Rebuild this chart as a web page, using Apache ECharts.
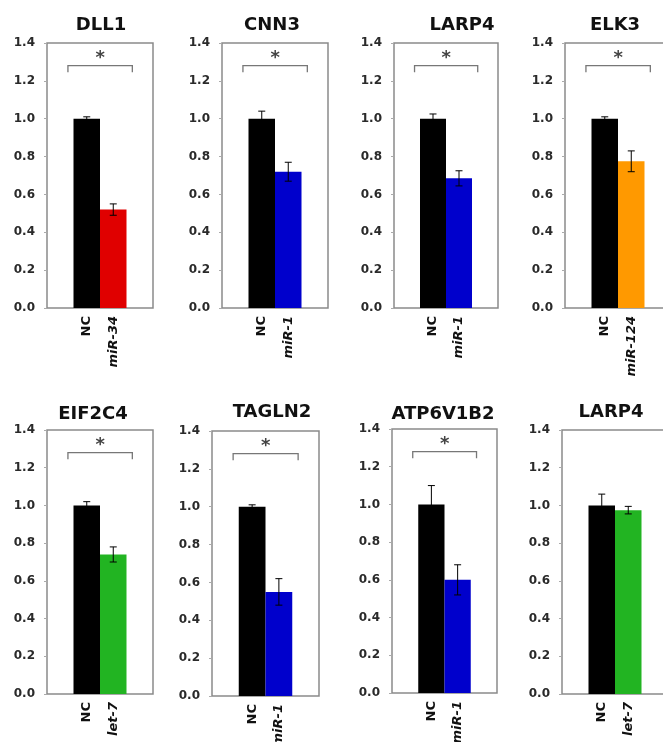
<!DOCTYPE html>
<html>
<head>
<meta charset="utf-8">
<script src="https://cdn.jsdelivr.net/npm/echarts@6/dist/echarts.min.js"></script>
<style>
html,body{margin:0;padding:0;background:#fff;}
#c{width:663px;height:742px;}
</style>
</head>
<body>
<div id="c"></div>
<script>
// ---- data ----
const genes = ['DLL1', 'CNN3', 'LARP4', 'ELK3', 'EIF2C4', 'TAGLN2', 'ATP6V1B2', 'LARP4'];
const controlLabel = 'NC';
const treatments = ['miR-34', 'miR-1', 'miR-1', 'miR-124', 'let-7', 'miR-1', 'miR-1', 'let-7'];
const ncValues = [1.0, 1.0, 1.0, 1.0, 1.0, 1.0, 1.0, 1.0];
const ncErrors = [0.01, 0.04, 0.025, 0.01, 0.02, 0.01, 0.1, 0.06];
const mirValues = [0.52, 0.72, 0.685, 0.775, 0.74, 0.55, 0.60, 0.975];
const mirErrors = [0.03, 0.05, 0.04, 0.055, 0.04, 0.07, 0.08, 0.02];
const significant = [true, true, true, true, true, true, true, false];
const yTickLabels = ['0.0', '0.2', '0.4', '0.6', '0.8', '1.0', '1.2', '1.4'];

// ---- styling / layout ----
const W = 663, H = 742;
const mirColors = ['#e00000', '#0000cc', '#0000cc', '#ff9900', '#22b422', '#0000cc', '#0000cc', '#22b422'];
const gridLeft = [47, 222, 394, 565, 47, 212, 392, 562];
const gridTop = [43, 43, 43, 43, 430, 431, 429, 430];
const gridW = [106, 106, 104, 106, 106, 107, 105, 106];
const gridH = [265, 265, 265, 265, 264, 265, 264, 264];
const titleX = [101, 272, 462, 615, 93, 272, 443, 611];
const titleY = [25, 25, 25, 25, 414, 412, 414, 412];
const FONT = '"DejaVu Sans", "Liberation Sans", Arial, sans-serif';

const chart = echarts.init(document.getElementById('c'), null, {renderer: 'canvas'});

const grids = [], xAxes = [], yAxes = [], series = [], graphics = [];

genes.forEach((g, i) => {
  grids.push({
    left: gridLeft[i], top: gridTop[i], width: gridW[i], height: gridH[i],
    containLabel: false, outerBoundsMode: 'none',
    show: true, borderColor: '#8a8a8a', borderWidth: 1.5, backgroundColor: 'transparent'
  });
  const cats = ['', controlLabel, treatments[i], ''];
  xAxes.push({
    type: 'category', gridIndex: i, data: cats, boundaryGap: true,
    axisLine: {show: false}, axisTick: {show: false}, splitLine: {show: false},
    axisLabel: {
      interval: 0, rotate: 90, margin: 8,
      formatter: (v, idx) => idx === 1 ? '{n|' + v + '}' : (idx === 2 ? '{m|' + v + '}' : ''),
      rich: {
        n: {fontFamily: FONT, fontWeight: 'bold', fontSize: 13, color: '#111'},
        m: {fontFamily: FONT, fontWeight: 'bold', fontStyle: 'italic', fontSize: 13, color: '#111'}
      }
    }
  });
  yAxes.push({
    type: 'value', gridIndex: i, min: 0, max: 1.4, interval: 0.2,
    axisLine: {show: false},
    axisTick: {show: true, length: 3, lineStyle: {color: '#aaa', width: 1}},
    splitLine: {show: false},
    axisLabel: {
      margin: 12, fontFamily: FONT, fontWeight: 'bold', fontSize: 12, color: '#2a2a2a',
      formatter: v => yTickLabels[Math.round(v / 0.2)]
    }
  });
  series.push({
    type: 'bar', xAxisIndex: i, yAxisIndex: i, barWidth: '100%', barCategoryGap: 0,
    data: ['-', {value: ncValues[i], itemStyle: {color: '#000'}},
           {value: mirValues[i], itemStyle: {color: mirColors[i]}}, '-'],
    silent: true, animation: false, z: 2
  });
  series.push({
    type: 'custom', xAxisIndex: i, yAxisIndex: i, animation: false, silent: true, z: 5,
    data: [[1, ncValues[i], ncErrors[i]], [2, mirValues[i], mirErrors[i]]],
    renderItem: (params, api) => {
      const x = api.value(0), v = api.value(1), e = api.value(2);
      const top = api.coord([x, v + e]);
      const bot = api.coord([x, v - e]);
      const cap = 3.5;
      const st = {stroke: '#000', lineWidth: 1};
      return {
        type: 'group', children: [
          {type: 'line', shape: {x1: top[0], y1: top[1], x2: bot[0], y2: bot[1]}, style: st},
          {type: 'line', shape: {x1: top[0] - cap, y1: top[1], x2: top[0] + cap, y2: top[1]}, style: st},
          {type: 'line', shape: {x1: bot[0] - cap, y1: bot[1], x2: bot[0] + cap, y2: bot[1]}, style: st}
        ]
      };
    }
  });
  if (significant[i]) {
    series.push({
      type: 'custom', xAxisIndex: i, yAxisIndex: i, animation: false, silent: true, z: 5,
      data: [[1, 2]],
      renderItem: (params, api) => {
        const p1 = api.coord([1, 1.28]);
        const p2 = api.coord([2, 1.28]);
        const band = p2[0] - p1[0];
        const L = p1[0] - 0.71 * band, R = p2[0] + 0.72 * band;
        const yTop = p1[1];
        const yEnd = api.coord([1, 1.245])[1];
        const st = {stroke: '#777', lineWidth: 1.3, fill: null};
        return {
          type: 'group', children: [
            {type: 'polyline', shape: {points: [[L, yEnd], [L, yTop], [R, yTop], [R, yEnd]]}, style: st},
            {type: 'text', x: (L + R) / 2, y: yTop - 7,
             style: {text: '*', fontFamily: FONT, fontWeight: 'bold', fontSize: 18, fill: '#444',
                     align: 'center', verticalAlign: 'middle'}}
          ]
        };
      }
    });
  }
  graphics.push({
    type: 'text', x: titleX[i], y: titleY[i], silent: true,
    style: {text: g, fontFamily: FONT, fontWeight: 'bold', fontSize: 18, fill: '#111',
            align: 'center', verticalAlign: 'middle'}
  });
});

chart.setOption({
  backgroundColor: '#ffffff',
  animation: false,
  grid: grids, xAxis: xAxes, yAxis: yAxes, series: series, graphic: graphics
});
</script>
</body>
</html>
